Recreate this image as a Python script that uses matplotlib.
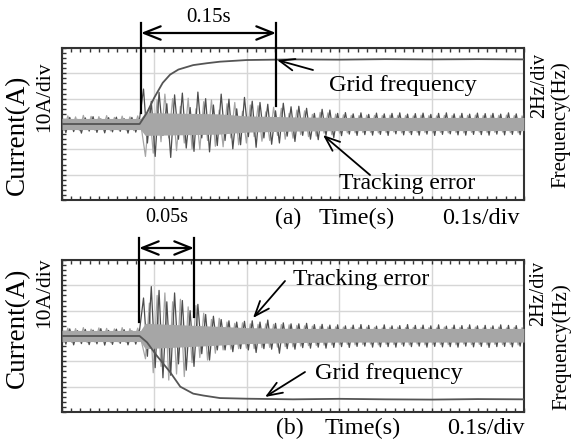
import matplotlib; matplotlib.use('Agg')
import matplotlib.pyplot as plt
import numpy as np

#############################################################################
# tracking error samples (A), alternating peaks
t_err = np.linspace(0, 0.5, 120)

err_a_dark = [
    2.2, -3.4, 2.6, -3.0, 1.8, -3.6, 2.4, -2.8, 2.9, -3.3, 2.0, -3.5, 2.5, -3.1, 2.7, -2.9, 2.1, -3.6, 2.6, -3.2, 2.3,
    13.8, -7.5, 9.0, -12.8, 12.5, -4.5, 8.0, -13.2, 11.5, -6.0,
    12.2, -9.5, 6.5, -10.8, 12.6, -5.5, 10.0, -11.0, 7.5, -8.5,
    11.8, -6.5, 9.8, -9.8, 6.0, -8.2, 10.5, -5.0, 9.0, -9.2,
    8.5, -5.5, 7.8, -8.0, 5.2, -7.5, 8.2, -4.8, 6.8, -6.9,
    7.0, -4.5, 6.2, -6.0, 4.2, -6.2, 5.8, -4.5, 5.5, -5.4,
    4.2, -4.6, 4.5, -4.0, 4.0, -4.5, 4.4, -4.2, 3.8, -4.4,
    4.3, -4.1, 4.0, -4.5, 4.2, -3.9, 4.4, -4.3, 3.9, -4.2,
    4.1, -4.4, 4.3, -4.0, 3.8, -4.5, 4.2, -4.1, 4.4, -3.9,
    4.0, -4.3, 4.2, -4.4, 3.9, -4.1, 4.3, -4.2, 4.1, -4.4,
    4.2, -4.0, 3.9, -4.3, 4.4, -4.1, 4.0, -4.2, 4.1]
err_a_light = [
    -2.4, 3.2, -2.0, 2.8, -2.6, 3.4, -2.2, 3.0, -2.5, 2.9, -2.1, 3.3, -2.7, 2.6, -2.3, 3.1, -2.4, 2.8, -2.6, 3.2, -2.2,
    -12.8, 6.0, -11.5, 9.5, -7.0, 11.8, -5.5, 10.0, -10.5, 7.0,
    -7.5, 10.2, -9.8, 6.0, -10.0, 8.8, -6.5, 9.5, -8.8, 5.5,
    -9.0, 8.0, -5.5, 8.5, -8.2, 5.0, -7.5, 7.5, -5.0, 7.2,
    -6.8, 4.8, -6.5, 6.6, -4.5, 6.2, -6.0, 4.2, -5.6, 5.5,
    -4.2, 5.2, -5.0, 3.8, -4.8, 4.6, -3.6, 4.4, -4.2, 3.9,
    -3.6, 3.6, -3.5, 3.4, -3.5, 3.3, -3.4, 3.5, -3.3, 3.4,
    -3.5, 3.3, -3.4, 3.5, -3.2, 3.4, -3.5, 3.3, -3.4, 3.2,
    -3.3, 3.5, -3.4, 3.3, -3.5, 3.2, -3.3, 3.4, -3.5, 3.3,
    -3.4, 3.2, -3.5, 3.4, -3.3, 3.5, -3.2, 3.3, -3.4, 3.5,
    -3.3, 3.4, -3.2, 3.5, -3.4, 3.3, -3.5, 3.2, -3.4]

err_b_dark = [
    2.4, -3.2, 2.8, -3.5, 2.1, -3.0, 2.6, -3.4, 2.3, -3.1, 2.9, -3.6, 2.2, -3.3, 2.7, -2.9, 2.5, -3.5, 2.0, -3.2, 2.6,
    15.0, -8.0, 19.5, -12.5, 18.0, -16.5, 13.5, -15.5, 17.0, -11.0,
    14.0, -13.5, 10.0, -12.0, 12.5, -7.0, 8.5, -9.5, 7.8, -5.5,
    6.5, -5.5, 6.0, -6.2, 5.5, -5.0, 5.8, -5.5, 6.0, -6.5,
    5.5, -5.0, 6.3, -5.2, 5.0, -6.8, 5.2, -5.0, 4.8, -5.2,
    4.8, -4.6, 5.0, -4.8, 4.5, -4.4, 4.6, -4.8, 4.3, -4.5,
    4.4, -4.2, 4.0, -4.5, 4.3, -4.1, 4.5, -4.0, 4.2, -4.4,
    3.9, -4.3, 4.4, -4.2, 4.0, -4.4, 4.1, -4.0, 4.5, -4.2,
    4.2, -4.0, 4.3, -4.4, 4.0, -4.1, 4.4, -4.3, 3.9, -4.2,
    4.3, -4.4, 4.1, -4.0, 4.4, -4.3, 4.0, -4.1, 4.2, -4.5,
    4.0, -4.2, 4.4, -4.1, 4.2, -4.3, 4.1, -4.0, 4.3]
err_b_light = [
    -2.3, 3.1, -2.5, 2.9, -2.2, 3.3, -2.6, 2.7, -2.4, 3.2, -2.1, 3.0, -2.6, 2.8, -2.3, 3.3, -2.5, 2.9, -2.2, 3.1, -2.4,
    -9.0, 13.0, -14.5, 16.0, -12.0, 17.0, -17.4, 13.5, -15.0, 14.5,
    -16.0, 11.5, -10.5, 12.0, -8.5, 9.0, -9.5, 6.5, -6.8, 7.0,
    -5.5, 5.5, -5.2, 5.0, -5.0, 5.2, -4.8, 4.8, -5.0, 4.6,
    -4.6, 4.8, -4.5, 4.6, -4.4, 4.5, -4.2, 4.4, -4.3, 4.2,
    -4.0, 4.0, -3.8, 3.9, -3.7, 3.8, -3.6, 3.6, -3.5, 3.6,
    -3.4, 3.5, -3.3, 3.4, -3.5, 3.3, -3.4, 3.5, -3.2, 3.4,
    -3.5, 3.2, -3.3, 3.4, -3.4, 3.5, -3.3, 3.3, -3.5, 3.4,
    -3.2, 3.4, -3.5, 3.3, -3.4, 3.2, -3.3, 3.5, -3.4, 3.3,
    -3.5, 3.4, -3.2, 3.3, -3.4, 3.5, -3.3, 3.2, -3.5, 3.4,
    -3.3, 3.5, -3.4, 3.2, -3.3, 3.4, -3.5, 3.3, -3.2]

# solid core of the light band (A)
core_t = [0, 0.085, 0.09, 0.17, 0.2, 0.25, 0.3, 0.5]
core_a_hi = [2.2, 2.2, 4.5, 4.0, 3.2, 2.8, 2.6, 2.6]
core_a_lo = [-2.2, -2.2, -4.5, -4.0, -3.2, -2.8, -2.6, -2.6]
core_b_hi = [2.2, 2.2, 5.0, 3.8, 3.3, 3.0, 3.0, 3.0]
core_b_lo = [-2.2, -2.2, -5.0, -3.6, -3.0, -2.6, -2.4, -2.4]

# grid frequency (Hz)
freq_a_t = [0, 0.084, 0.092, 0.100, 0.109, 0.117, 0.126, 0.142, 0.157, 0.171, 0.200, 0.250, 0.300, 0.350, 0.400, 0.450, 0.500]
freq_a = [50, 50, 50.9, 52.1, 53.25, 53.9, 54.3, 54.65, 54.8, 54.92, 55.05, 55.1, 55.08, 55.12, 55.1, 55.12, 55.1]
freq_b_t = [0, 0.084, 0.092, 0.102, 0.117, 0.128, 0.142, 0.153, 0.171, 0.200, 0.250, 0.300, 0.350, 0.400, 0.450, 0.500]
freq_b = [50, 50, 49.5, 48.5, 47.15, 46.0, 45.45, 45.3, 45.1, 45.05, 45.0, 45.04, 45.0, 44.98, 45.02, 45.0]
#############################################################################

W, H = 571, 442
fig = plt.figure(figsize=(W / 100, H / 100), dpi=100)
serif = ['Liberation Serif', 'DejaVu Serif']
dark = '#4d4d4d'
light = '#a6a6a6'


def scope(top):
    ax = fig.add_axes([62 / W, 1 - (top + 152) / H, 462 / W, 152 / H])
    ax.set_xlim(0, 0.5)
    ax.set_ylim(-30, 30)
    ax.set_xticks(np.arange(0, 0.51, 0.1))
    ax.set_yticks(np.arange(-30, 31, 10))
    ax.set_xticks(np.arange(0, 0.501, 0.01), minor=True)
    ax.set_yticks(np.arange(-30, 31, 2), minor=True)
    ax.tick_params(which='both', direction='in', top=True, right=True,
                   labelbottom=False, labelleft=False, length=3, width=1, colors='#333333')
    ax.grid(which='major', color='#d6d6d6', lw=1)
    ax.set_axisbelow(True)
    for s in ax.spines.values():
        s.set_linewidth(1.5)
        s.set_color('#333333')
    return ax


dt = t_err[1] - t_err[0]
for top, dk, lt, chi, clo, ft, fv in [(48, err_a_dark, err_a_light, core_a_hi, core_a_lo, freq_a_t, freq_a),
                                      (260, err_b_dark, err_b_light, core_b_hi, core_b_lo, freq_b_t, freq_b)]:
    ax = scope(top)
    ax.plot(t_err + dt / 2, lt, color=light, lw=0.9, zorder=2)
    ax.plot(t_err, dk, color=dark, lw=0.9, zorder=3)
    ax.fill_between(core_t, clo, chi, color=light, lw=0, zorder=4)
    axf = ax.twinx()
    axf.set_ylim(44, 56)
    axf.set_xlim(0, 0.5)
    axf.plot(ft, fv, color='#555555', lw=1.3)
    axf.axis('off')

# overlay in pixel coordinates for labels and arrows
ov = fig.add_axes([0, 0, 1, 1])
ov.set_xlim(0, W)
ov.set_ylim(H, 0)
ov.axis('off')


def txt(x, y, s, size, rot=0):
    ov.text(x, y, s, ha='center', va='center', fontsize=size, family=serif, rotation=rot)


def pointer(tip, tail):
    ov.annotate('', xy=tip, xytext=tail,
                arrowprops=dict(arrowstyle='->,head_length=0.9,head_width=0.35', lw=1.3,
                                color='black', mutation_scale=12, shrinkA=0, shrinkB=0))


def span(x0, x1, y, y0, y1a, y1b, lab, ylab, size):
    ov.plot([x0, x0], [y0, y1a], color='black', lw=1.6)
    ov.plot([x1, x1], [y0, y1b], color='black', lw=1.6)
    ov.annotate('', xy=(x1, y), xytext=(x0, y),
                arrowprops=dict(arrowstyle='<->,head_length=1.0,head_width=0.4', lw=1.6,
                                color='black', mutation_scale=12, shrinkA=0, shrinkB=0))
    txt((x0 + x1) / 2, ylab, lab, size)


# panel (a)
span(141, 276, 33, 23, 113, 106, '0.15s', 17, 15)
txt(403, 85, 'Grid frequency', 17.5)
pointer((277, 60), (313, 70))
txt(407, 183, 'Tracking error', 17)
pointer((323, 135), (370, 175))
txt(17, 135, 'Current(A)', 19.5, 90)
txt(45, 97, '10A/div', 15.5, 90)
txt(540, 85, '2Hz/div', 14.5, 90)
txt(561, 125, 'Frequency(Hz)', 15, 90)
txt(288, 218, '(a)', 17)
txt(357, 218, 'Time(s)', 17.5)
txt(481, 218, '0.1s/div', 17.5)

# panel (b)
span(139, 194, 248, 238, 322, 317, '0.05s', 218, 14.5)
txt(361, 279, 'Tracking error', 17)
pointer((253, 318), (285, 281))
txt(389, 373, 'Grid frequency', 17.5)
pointer((265, 397), (305, 372))
txt(17, 328, 'Current(A)', 19.5, 90)
txt(45, 293, '10A/div', 15.5, 90)
txt(539, 293, '2Hz/div', 14.5, 90)
txt(562, 347, 'Frequency(Hz)', 15, 90)
txt(290, 428, '(b)', 17)
txt(363, 428, 'Time(s)', 17.5)
txt(486, 428, '0.1s/div', 17.5)

fig.savefig('out.png', dpi=100)
